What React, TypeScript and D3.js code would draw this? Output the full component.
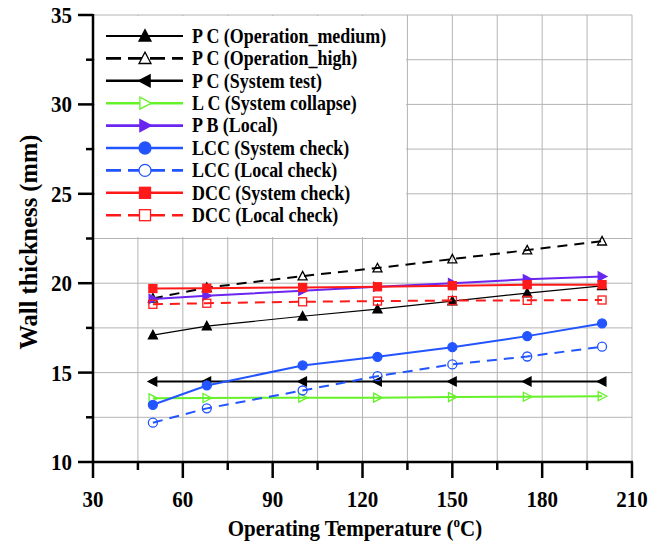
import React from "react";
import * as d3 from "d3";

const temps = [50, 68, 100, 125, 150, 175, 200];
const pcMedium = [17.1, 17.6, 18.15, 18.55, 19.0, 19.45, 19.85];
const pcHigh = [19.15, 19.75, 20.4, 20.85, 21.35, 21.85, 22.35];
const pcSystemTest = [14.5, 14.5, 14.5, 14.5, 14.5, 14.5, 14.5];
const lcCollapse = [13.56, 13.58, 13.6, 13.6, 13.63, 13.65, 13.68];
const pbLocal = [19.12, 19.3, 19.58, 19.8, 20.0, 20.22, 20.38];
const lccSystem = [13.2, 14.28, 15.4, 15.88, 16.42, 17.04, 17.75];
const lccLocal = [12.2, 13.0, 14.0, 14.8, 15.46, 15.9, 16.45];
const dccSystem = [19.7, 19.72, 19.76, 19.8, 19.86, 19.92, 19.92];
const dccLocal = [18.82, 18.88, 18.96, 19.0, 19.03, 19.04, 19.06];

const seriesNames = [
  "P C (Operation_medium)",
  "P C (Operation_high)",
  "P C (System test)",
  "L C (System collapse)",
  "P B (Local)",
  "LCC (System check)",
  "LCC (Local check)",
  "DCC (System check)",
  "DCC (Local check)",
];
const seriesValues = [pcMedium, pcHigh, pcSystemTest, lcCollapse, pbLocal, lccSystem, lccLocal, dccSystem, dccLocal];

const xTicks = [30, 60, 90, 120, 150, 180, 210];
const yTicks = [10, 15, 20, 25, 30, 35];

type Style = { color: string; width: number; dash?: string; marker: string; filled: boolean };
const styles: Style[] = [
  { color: "#000", width: 1.2, marker: "triUp", filled: true },
  { color: "#000", width: 2, dash: "10,7", marker: "triUp", filled: false },
  { color: "#000", width: 2, marker: "triLeft", filled: true },
  { color: "#66f22a", width: 2, marker: "triRight", filled: false },
  { color: "#6a26f0", width: 2, marker: "triRight", filled: true },
  { color: "#2255ff", width: 2, marker: "circle", filled: true },
  { color: "#2255ff", width: 2, dash: "10,7", marker: "circle", filled: false },
  { color: "#ff1a1a", width: 2, marker: "square", filled: true },
  { color: "#ff1a1a", width: 2, dash: "10,7", marker: "square", filled: false },
];

const FONT = "'Liberation Serif', 'Times New Roman', serif";

function Marker({ type, x, y, s, color, filled, bg }: { type: string; x: number; y: number; s: number; color: string; filled: boolean; bg: string }) {
  const fill = filled ? color : bg;
  const sw = 1.3;
  if (type === "circle") return <circle cx={x} cy={y} r={s / 2} fill={fill} stroke={color} strokeWidth={sw} />;
  if (type === "square") return <rect x={x - s / 2} y={y - s / 2} width={s} height={s} fill={fill} stroke={color} strokeWidth={sw} />;
  const h = s / 2;
  let pts = "";
  if (type === "triUp") pts = `${x - h},${y + h * 0.85} ${x + h},${y + h * 0.85} ${x},${y - h * 1.05}`;
  if (type === "triLeft") pts = `${x + h * 0.85},${y - h} ${x + h * 0.85},${y + h} ${x - h * 1.05},${y}`;
  if (type === "triRight") pts = `${x - h * 0.85},${y - h} ${x - h * 0.85},${y + h} ${x + h * 1.05},${y}`;
  return <polygon points={pts} fill={fill} stroke={color} strokeWidth={sw} strokeLinejoin="miter" />;
}

export default function App() {
  const W = 663, H = 547;
  const x = d3.scaleLinear().domain([30, 210]).range([93, 632]);
  const y = d3.scaleLinear().domain([10, 35]).range([462, 15]);
  const vGrid = d3.range(45, 211, 15);
  const hGrid = d3.range(12.5, 35.01, 2.5);
  const xMinor = d3.range(45, 210, 30);
  const yMinor = d3.range(12.5, 35, 5);
  const line = d3.line<[number, number]>().x(d => x(d[0])).y(d => y(d[1]));

  const legX0 = 106, legX1 = 183, legMX = 145, legTX = 192;
  const legY = (i: number) => 36 + i * 22.4;

  return (
    <svg width={W} height={H} style={{ display: "block", position: "absolute", left: 0, top: 0 }} fontFamily={FONT}>
      <rect x={0} y={0} width={W} height={H} fill="#fff" />
      {vGrid.map(v => (
        <line key={"vg" + v} x1={x(v)} x2={x(v)} y1={y(10)} y2={y(35)} stroke="#b4b4b4" strokeWidth={1} />
      ))}
      {hGrid.map(v => (
        <line key={"hg" + v} x1={x(30)} x2={x(210)} y1={y(v)} y2={y(v)} stroke="#b4b4b4" strokeWidth={1} />
      ))}
      {/* legend background */}
      <rect x={95} y={16} width={311} height={221} fill="#fff" />
      {seriesValues.map((vals, i) => {
        const st = styles[i];
        const pts = temps.map((t, j) => [t, vals[j]] as [number, number]);
        return (
          <g key={"s" + i}>
            <path d={line(pts) || ""} fill="none" stroke={st.color} strokeWidth={st.width} strokeDasharray={st.dash} />
            {pts.map((p, j) => (
              <Marker key={j} type={st.marker} x={x(p[0])} y={y(p[1])} s={st.marker === "square" ? 8 : 9} color={st.color} filled={st.filled} bg="none" />
            ))}
          </g>
        );
      })}
      {/* axes */}
      <line x1={x(30)} x2={x(30)} y1={y(35) - 1} y2={y(10) + 1} stroke="#000" strokeWidth={2.5} />
      <line x1={x(30) - 1} x2={x(210) + 1} y1={y(10)} y2={y(10)} stroke="#000" strokeWidth={2.5} />
      {xTicks.map(v => (
        <g key={"xt" + v}>
          <line x1={x(v)} x2={x(v)} y1={y(10)} y2={y(10) + 16} stroke="#000" strokeWidth={2.5} />
          <text transform={`translate(${x(v)},507) scale(1,1.12)`} textAnchor="middle" fontSize={21} fontWeight="bold">{v}</text>
        </g>
      ))}
      {xMinor.map(v => (
        <line key={"xm" + v} x1={x(v)} x2={x(v)} y1={y(10)} y2={y(10) + 8} stroke="#000" strokeWidth={2.5} />
      ))}
      {yTicks.map(v => (
        <g key={"yt" + v}>
          <line x1={x(30) - 15} x2={x(30)} y1={y(v)} y2={y(v)} stroke="#000" strokeWidth={2.5} />
          <text transform={`translate(72,${y(v) + 8}) scale(1,1.12)`} textAnchor="end" fontSize={21} fontWeight="bold">{v}</text>
        </g>
      ))}
      {yMinor.map(v => (
        <line key={"ym" + v} x1={x(30) - 7} x2={x(30)} y1={y(v)} y2={y(v)} stroke="#000" strokeWidth={2.5} />
      ))}
      {/* legend */}
      {seriesNames.map((name, i) => {
        const st = styles[i];
        const ly = legY(i);
        return (
          <g key={"lg" + i}>
            <line x1={legX0} x2={legX1} y1={ly} y2={ly} stroke={st.color} strokeWidth={st.width + 0.6} strokeDasharray={st.dash ? "15,7" : undefined} />
            <Marker type={st.marker} x={legMX} y={ly} s={st.marker === "square" ? 11 : 12} color={st.color} filled={st.filled} bg="#fff" />
            <text transform={`translate(${legTX},${ly + 6.8}) scale(0.92,1.04)`} fontSize={19.5} fontWeight="bold">{name}</text>
          </g>
        );
      })}
      {/* axis titles */}
      <text transform="translate(355,536) scale(1,1.1)" textAnchor="middle" fontSize={21} fontWeight="bold">
        Operating Temperature (<tspan fontSize={13} dy={-8}>o</tspan><tspan dy={8}>C)</tspan>
      </text>
      <text transform={`translate(37,${y(22.3)}) rotate(-90)`} textAnchor="middle" fontSize={24.5} fontWeight="bold">
        Wall thickness (mm)
      </text>
    </svg>
  );
}
